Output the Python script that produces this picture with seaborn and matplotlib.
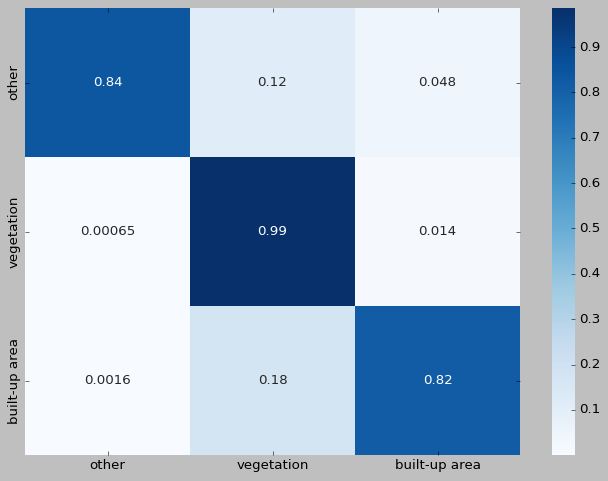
import matplotlib
matplotlib.use("Agg")
import matplotlib.pyplot as plt
from matplotlib.ticker import MultipleLocator
import seaborn as sns
import numpy as np
import pandas as pd

labels = ["other", "vegetation", "built-up area"]
row_other = [0.836, 0.116, 0.048]
row_vegetation = [0.00065, 0.986, 0.014]
row_builtup = [0.0016, 0.18, 0.818]

plt.style.use("classic")
df = pd.DataFrame([row_other, row_vegetation, row_builtup], index=labels, columns=labels)

W, H = 608, 481
fig = plt.figure(figsize=(W / 80, H / 80), dpi=80, facecolor="#bfbfbf")
ax = fig.add_axes([25 / W, 26 / H, 495 / W, 447 / H])
cax = fig.add_axes([552 / W, 26 / H, 23 / W, 447 / H])
sns.heatmap(df, annot=True, cmap="Blues", ax=ax, cbar_ax=cax)
cax.yaxis.set_major_locator(MultipleLocator(0.1))
fig.savefig("out.png", dpi=80, facecolor="#bfbfbf")
